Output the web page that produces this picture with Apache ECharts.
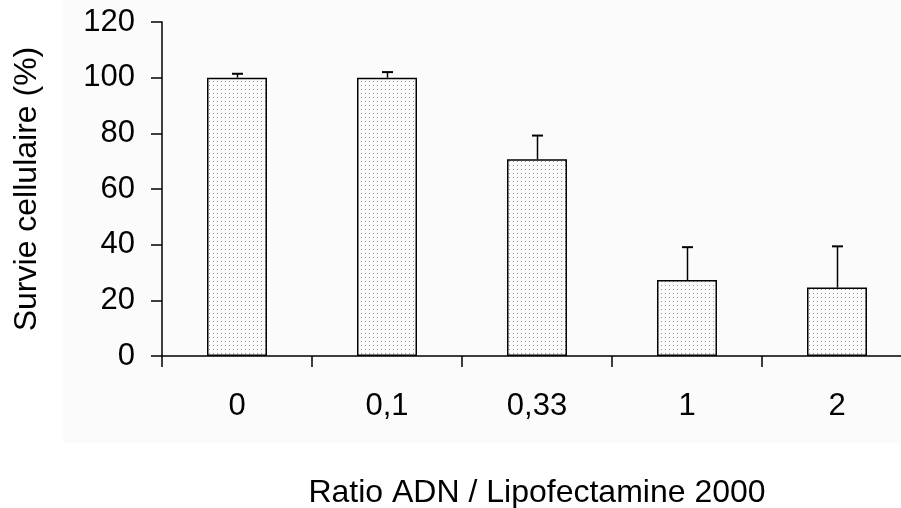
<!DOCTYPE html>
<html><head><meta charset="utf-8">
<script src="https://cdn.jsdelivr.net/npm/echarts@6/dist/echarts.min.js"></script>
<style>html,body{margin:0;padding:0;background:#fff}#c{width:901px;height:508px}</style>
</head><body><div id="c"></div>
<script>
const categories = ['0', '0,1', '0,33', '1', '2'];
const survival = [100, 100, 70.7, 27.3, 24.6];
const errorTop = [101.4, 102.0, 79.2, 39.1, 39.4];
const yTicks = [0, 20, 40, 60, 80, 100, 120];

// dotted fill pattern
const pat = document.createElement('canvas');
pat.width = 4; pat.height = 4;
const pc = pat.getContext('2d');
pc.fillStyle = '#fcfcfc'; pc.fillRect(0, 0, 4, 4);
pc.fillStyle = '#9a9a9a'; pc.fillRect(1, 1, 1, 1);

const chart = echarts.init(document.getElementById('c'), null, {renderer: 'canvas'});
const font = 'Liberation Sans, Arial, sans-serif';
chart.setOption({
  animation: false,
  backgroundColor: '#ffffff',
  graphic: [{type: 'rect', z: -10, shape: {x: 63, y: 0, width: 838, height: 443}, style: {fill: '#fbfbfb'}}],
  grid: {left: 162, top: 22, right: -11, bottom: 152, containLabel: false, outerBoundsMode: 'none'},
  xAxis: {
    type: 'category', data: categories,
    name: 'Ratio ADN / Lipofectamine 2000', nameLocation: 'middle', nameGap: 121,
    nameTextStyle: {fontFamily: font, fontSize: 32, color: '#000'},
    axisLine: {lineStyle: {color: '#000', width: 1.5}},
    axisTick: {show: true, length: 11, alignWithLabel: false, lineStyle: {color: '#000', width: 1.5}},
    axisLabel: {fontFamily: font, fontSize: 31, color: '#000', margin: 35},
    splitLine: {show: false}
  },
  yAxis: {
    type: 'value', min: yTicks[0], max: yTicks[yTicks.length - 1], interval: 20,
    name: 'Survie cellulaire (%)', nameLocation: 'middle', nameGap: 119, nameRotate: 90,
    nameTextStyle: {fontFamily: font, fontSize: 32, color: '#000'},
    axisLine: {show: true, lineStyle: {color: '#000', width: 1.5}},
    axisTick: {show: true, length: 11, lineStyle: {color: '#000', width: 1.5}},
    axisLabel: {fontFamily: font, fontSize: 31, color: '#000', margin: 27},
    splitLine: {show: false}
  },
  series: [
    {
      type: 'bar', data: survival, barWidth: 60,
      itemStyle: {color: {image: pat, repeat: 'repeat'}, borderColor: '#000', borderWidth: 1.5},
      z: 2
    },
    {
      type: 'custom', data: categories.map((c, i) => [i, survival[i], errorTop[i]]),
      renderItem: function (params, api) {
        const base = api.coord([api.value(0), api.value(1)]);
        const top = api.coord([api.value(0), api.value(2)]);
        const x = Math.round(base[0]) + 0.5;
        return {
          type: 'group', children: [
            {type: 'line', shape: {x1: x, y1: base[1], x2: x, y2: top[1]}, style: {stroke: '#000', lineWidth: 1.5}},
            {type: 'line', shape: {x1: x - 5.5, y1: top[1], x2: x + 5.5, y2: top[1]}, style: {stroke: '#000', lineWidth: 2}}
          ]
        };
      },
      z: 3
    }
  ]
});
</script></body></html>
